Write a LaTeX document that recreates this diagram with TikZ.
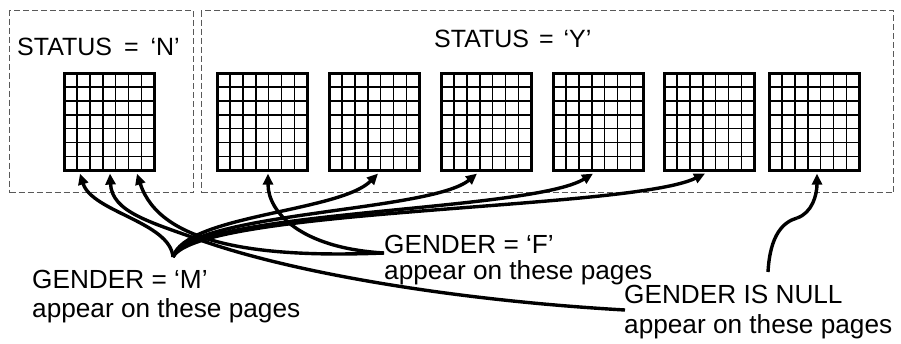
\documentclass[tikz,border=0pt]{standalone}
\usepackage{fontspec}
\setmainfont{Liberation Sans}
\usetikzlibrary{arrows.meta,calc}
\begin{document}
\begin{tikzpicture}[x=1pt,y=-1pt,
  pagegrid/.style={draw, line width=2.6pt, minimum width=90pt, minimum height=97pt,
    inner sep=0pt, anchor=north west,
    path picture={
      \foreach \i in {1,...,6}{
        \draw[line width=1.4pt]
          ($(path picture bounding box.north west)!\i/7!(path picture bounding box.north east)$) --
          ($(path picture bounding box.south west)!\i/7!(path picture bounding box.south east)$);
        \draw[line width=1.4pt]
          ($(path picture bounding box.north west)!\i/7!(path picture bounding box.south west)$) --
          ($(path picture bounding box.north east)!\i/7!(path picture bounding box.south east)$);
      }}},
  regionbox/.style={draw=black!65, dash pattern=on 6pt off 3pt, line width=1pt,
    inner sep=0pt, anchor=north west},
  lbl/.style={anchor=base west, inner sep=0pt, font=\fontsize{26.2}{30}\selectfont},
  statlbl/.style={anchor=base west, inner sep=0pt, font=\fontsize{25}{30}\selectfont},
  conn/.style={line width=3.4pt, -{Triangle[length=11pt,width=10pt]}},
  plain/.style={line width=3.4pt}
]
\useasboundingbox (0,0) rectangle (901,343);

% region frames
\node[regionbox, minimum width=184pt, minimum height=182pt] (rn) at (9,10) {};
\node[regionbox, minimum width=692pt, minimum height=182pt] (ry) at (201,10) {};

% status labels
\node[statlbl] (statn) at (17,55) {STATUS\hspace{5pt} = \hspace{5pt}‘N’};
\node[statlbl] (staty) at (434,47) {STATUS\hspace{3pt} = \hspace{3pt}‘Y’};

% pages
\node[pagegrid] (g1) at (63,72) {};
\node[pagegrid] (g2) at (216,72) {};
\node[pagegrid] (g3) at (328,72) {};
\node[pagegrid] (g4) at (440,72) {};
\node[pagegrid] (g5) at (552,72) {};
\node[pagegrid] (g6) at (663,72) {};
\node[pagegrid] (g7) at (768,72) {};

% arrow targets on page bottoms
\coordinate (g1a) at ($(g1.south west)+(17,2)$);
\coordinate (g1b) at ($(g1.south west)+(47,2)$);
\coordinate (g1c) at ($(g1.south west)+(74,2)$);
\coordinate (g2a) at ($(g2.south west)+(52,2)$);
\coordinate (g3a) at ($(g3.south west)+(50,2)$);
\coordinate (g4a) at ($(g4.south west)+(37,2)$);
\coordinate (g5a) at ($(g5.south west)+(41,2)$);
\coordinate (g6a) at ($(g6.south west)+(42,2)$);
\coordinate (g7a) at ($(g7.south west)+(49,2)$);

% gender labels
\node[lbl] (mlab) at (32,288) {GENDER = ‘M’};
\node[lbl] (mlab2) at (32,317) {appear on these pages};
\node[lbl] (flab) at (384,253) {GENDER = ‘F’};
\node[lbl] (flab2) at (384,279) {appear on these pages};
\node[lbl] (nlab) at (624,303) {GENDER IS NULL};
\node[lbl] (nlab2) at (624,333) {appear on these pages};

% connector start points
\coordinate (mtip) at (173,257);
\coordinate (nleft) at (625,310);
\coordinate (ntop) at (768,272);
\coordinate (nmid) at (797,218);
\coordinate (njoin) at (200,240);

% GENDER = 'M'
\draw[conn] (mtip) .. controls (170,222) and (92,212) .. (g1a);
\draw[conn] (mtip) .. controls (185,215) and (340,212) .. (g3a);
\draw[conn] (mtip) .. controls (190,212) and (430,212) .. (g4a);
\draw[conn] (mtip) .. controls (195,210) and (530,212) .. (g5a);
\draw[conn] (mtip) .. controls (200,208) and (630,210) .. (g6a);

% GENDER = 'F'
\draw[conn] (flab.base west) .. controls (260,258) and (160,245) .. (g1c);
\draw[conn] (flab.base west) .. controls (300,248) and (268,212) .. (g2a);

% GENDER IS NULL
\draw[plain] (nleft) .. controls (450,300) and (290,272) .. (njoin);
\draw[conn] (njoin) .. controls (150,222) and (112,212) .. (g1b);
\draw[plain] (ntop) .. controls (770,235) and (783,222) .. (nmid);
\draw[conn] (nmid) .. controls (812,213) and (817,195) .. (g7a);
\end{tikzpicture}
\end{document}
